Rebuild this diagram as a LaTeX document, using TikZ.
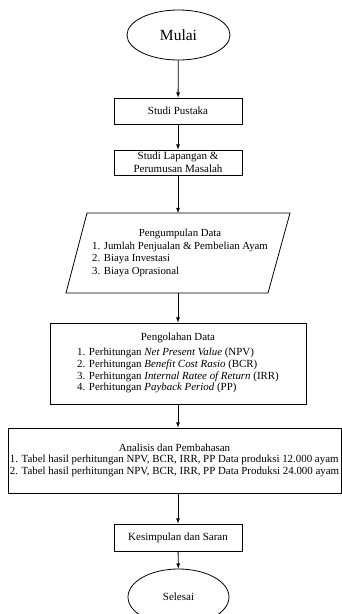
\documentclass[tikz,border=0pt]{standalone}
\usepackage{fontspec}
\setmainfont{Liberation Serif}
\usetikzlibrary{shapes.geometric}

\begin{document}
\begin{tikzpicture}[x=1pt, y=-1pt, line width=0.8pt, font=\fontsize{11}{12}\selectfont,
    box/.style={draw, rectangle, inner sep=0pt, align=center},
    oval/.style={draw, ellipse, inner sep=0pt},
    arr/.style={-latex}]
  \useasboundingbox (0,0) rectangle (342,614);

  \node[oval, minimum width=103pt, minimum height=50pt, font=\fontsize{15.5}{18}\selectfont] (mulai) at (178.5,35) {Mulai};
  \node[box, minimum width=128pt, minimum height=26pt] (pustaka) at (178,111) {Studi Pustaka};
  \node[box, minimum width=128pt, minimum height=25pt, font=\fontsize{11}{13}\selectfont] (lapangan) at (178,162.5) {Studi Lapangan \&\\Perumusan Masalah};

  \draw (87,213) -- (290,213) -- (268,293) -- (66,293) -- cycle;
  \coordinate (dataAtas) at (178,213);
  \coordinate (dataBawah) at (178,293);
  \node[inner sep=0pt, font=\fontsize{10.8}{12.6}\selectfont] (data) at (180,253) {\begin{tabular}{@{}l@{}}
      \multicolumn{1}{@{}c@{}}{Pengumpulan Data}\\
      1. Jumlah Penjualan \& Pembelian Ayam\\
      2. Biaya Investasi\\
      3. Biaya Oprasional
    \end{tabular}};

  \node[box, minimum width=256pt, minimum height=81pt, font=\fontsize{10.9}{11.8}\selectfont] (olah) at (178,363.5) {\begin{tabular}{@{}l@{}}
      \multicolumn{1}{@{}c@{}}{Pengolahan Data}\\[3pt]
      1. Perhitungan \textit{Net Present Value} (NPV)\\
      2. Perhitungan \textit{Benefit Cost Rasio} (BCR)\\
      3. Perhitungan \textit{Internal Ratee of Return} (IRR)\\
      4. Perhitungan \textit{Payback Period} (PP)
    \end{tabular}};

  \node[box, minimum width=333pt, minimum height=65pt, font=\fontsize{10.9}{11.6}\selectfont] (analisis) at (174.5,460.5) {\begin{tabular}{@{}l@{}}
      \multicolumn{1}{@{}c@{}}{Analisis dan Pembahasan}\\
      1. Tabel hasil perhitungan NPV, BCR, IRR, PP Data produksi 12.000 ayam\\
      2. Tabel hasil perhitungan NPV, BCR, IRR, PP Data Produksi 24.000 ayam
    \end{tabular}};

  \node[box, minimum width=128pt, minimum height=27pt] (kesimpulan) at (178,537.5) {Kesimpulan dan Saran};
  \node[oval, minimum width=101pt, minimum height=56pt] (selesai) at (178.5,597) {Selesai};

  \draw[arr] (mulai) -- (pustaka);
  \draw[arr] (pustaka) -- (lapangan);
  \draw[arr] (lapangan) -- (dataAtas);
  \draw[arr] (dataBawah) -- (olah);
  \draw[arr] (olah.south) -- (olah.south |- analisis.north);
  \draw[arr] (kesimpulan.north |- analisis.south) -- (kesimpulan);
  \draw[arr] (kesimpulan) -- (selesai);
\end{tikzpicture}
\end{document}
